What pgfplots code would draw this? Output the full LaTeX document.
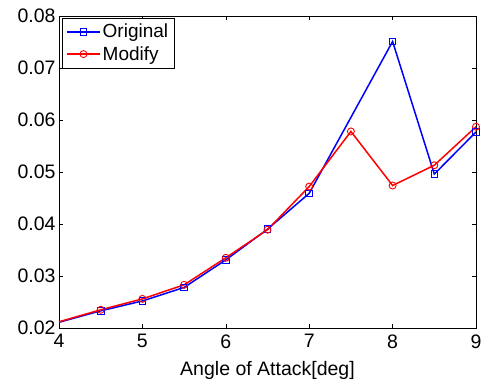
\documentclass[border=0pt]{standalone}
\usepackage{fontspec}
\setmainfont{Liberation Sans}
\usepackage{pgfplots}
\pgfplotsset{compat=1.18}
\begin{document}
\begin{tikzpicture}
\begin{axis}[
  name=ax,
  scale only axis,
  width=417pt, height=312pt,
  xmin=4, xmax=9, ymin=0.02, ymax=0.08,
  xtick={4,5,6,7,8,9},
  ytick={0.02,0.03,0.04,0.05,0.06,0.07,0.08},
  scaled y ticks=false,
  yticklabel style={/pgf/number format/fixed,/pgf/number format/fixed zerofill,/pgf/number format/precision=2},
  xticklabel style={yshift=-3pt},
  /pgf/number format/assume math mode=true,
  tick align=inside,
  major tick length=4pt,
  tick style={black, line width=0.6pt},
  axis line style={line width=0.8pt},
  ticklabel style={font=\fontsize{19.5}{22}\selectfont},
  xlabel={Angle of Attack[deg]},
  xlabel style={font=\fontsize{19.5}{22}\selectfont, yshift=-6pt},
  legend style={at={(0,1)}, anchor=north west, xshift=3pt, yshift=-2pt,
    font=\fontsize{19}{22}\selectfont, draw=black,
    inner xsep=4pt, inner ysep=4pt, row sep=3pt},
  legend cell align=left,
  legend image code/.code={\draw[mark repeat=2,mark phase=2,#1] plot coordinates {(0cm,0cm) (0.58cm,0cm) (1.16cm,0cm)};},
]
\addplot[blue, line width=1.5pt, mark=square, mark size=3.3pt, mark options={line width=0.9pt}]
  coordinates {(4.5,0.0233) (5,0.0252) (5.5,0.0278) (6,0.0331) (6.5,0.0390) (7,0.0459) (8,0.0751) (8.5,0.0496) (9,0.0577)};
\addlegendentry{Original}
\addplot[red, line width=1.5pt, mark=o, mark size=3.5pt, mark options={line width=0.9pt}]
  coordinates {(4.5,0.0235) (5,0.0256) (5.5,0.0283) (6,0.0335) (6.5,0.0389) (7,0.0472) (7.5,0.0578) (8,0.0474) (8.5,0.0513) (9,0.0587)};
\addlegendentry{Modify}
\addplot[blue, line width=1.5pt, forget plot] coordinates {(4,0.0211) (4.5,0.0233)};
\addplot[red, line width=1.5pt, forget plot] coordinates {(4,0.0212) (4.5,0.0235)};
\end{axis}
\useasboundingbox ([xshift=-59pt,yshift=-53pt]ax.south west) rectangle ([xshift=10pt,yshift=16pt]ax.north east);
\end{tikzpicture}
\end{document}
